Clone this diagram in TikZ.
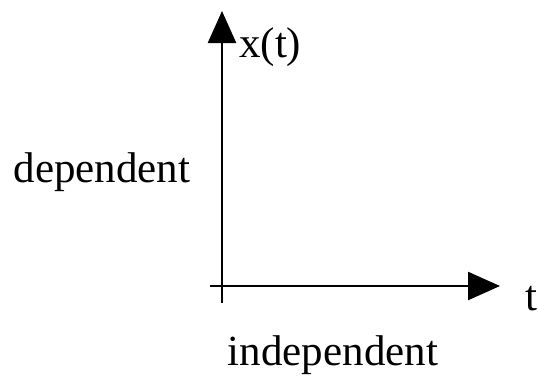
\documentclass[tikz,border=0pt]{standalone}
\usepackage{fontspec}
\setmainfont{Liberation Serif}
\usetikzlibrary{arrows.meta}
\begin{document}
\begin{tikzpicture}[x=1pt,y=-1pt,
  axis/.style={line width=2.5pt,-{Triangle[length=32pt,width=28pt]}},
  lbl/.style={inner sep=0pt,font=\fontsize{43}{45}\selectfont}]
\useasboundingbox (0,0) rectangle (538,375);
\coordinate (vb) at (222,303);
\coordinate (vt) at (222,11);
\coordinate (hl) at (210,286);
\coordinate (hr) at (500,286);
\draw[axis] (vb) -- (vt);
\draw[axis] (hl) -- (hr);
\node[lbl,anchor=base west] (xt) at (239,57) {x(t)};
\node[lbl,anchor=base] (t) at (531,310) {t};
\node[lbl,anchor=base] (dep) at (102,182) {dependent};
\node[lbl,anchor=base] (indep) at (333,365) {independent};
\end{tikzpicture}
\end{document}
